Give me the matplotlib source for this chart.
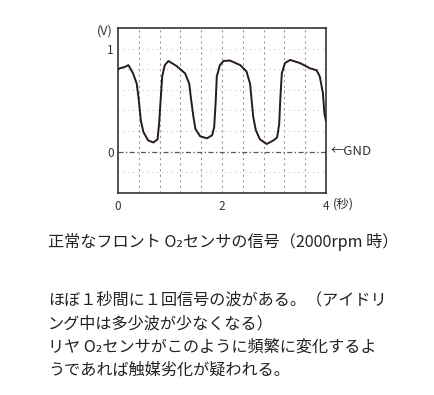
import matplotlib
matplotlib.use('Agg')
import matplotlib.pyplot as plt
import numpy as np

plt.rcParams['font.family'] = ['Noto Sans CJK JP', 'DejaVu Sans']

# waveform (time in s, voltage in V)
t = [0.00, 0.04, 0.12, 0.20, 0.29, 0.36, 0.40, 0.44, 0.49, 0.58, 0.68, 0.76,
     0.79, 0.82, 0.85, 0.90, 0.97, 1.13, 1.29, 1.37, 1.40, 1.45, 1.49, 1.58,
     1.71, 1.81, 1.85, 1.88, 1.90, 1.96, 2.03, 2.15, 2.35, 2.47, 2.54, 2.57,
     2.60, 2.65, 2.73, 2.86, 2.99, 3.06, 3.10, 3.12, 3.15, 3.21, 3.31, 3.50,
     3.69, 3.82, 3.88, 3.94, 3.97, 4.00]
v = [0.80, 0.81, 0.82, 0.84, 0.76, 0.66, 0.50, 0.30, 0.19, 0.11, 0.09, 0.12,
     0.27, 0.50, 0.73, 0.84, 0.88, 0.83, 0.76, 0.66, 0.53, 0.34, 0.22, 0.15,
     0.13, 0.16, 0.24, 0.50, 0.73, 0.84, 0.88, 0.885, 0.84, 0.78, 0.66, 0.50,
     0.34, 0.21, 0.12, 0.075, 0.11, 0.14, 0.27, 0.50, 0.76, 0.86, 0.89, 0.86,
     0.81, 0.79, 0.73, 0.57, 0.37, 0.30]

x_ticks = [0, 2, 4]
x_labels = ['0', '2', '4']
y_ticks = [0, 1]
y_labels = ['0', '1']

title = '正常なフロント O₂センサの信号（2000rpm 時）'
body = ['ほぼ１秒間に１回信号の波がある。（アイドリ',
        'ング中は多少波が少なくなる）',
        'リヤ O₂センサがこのように頻繁に変化するよ',
        'うであれば触媒劣化が疑われる。']

W, H = 435, 395
fig = plt.figure(figsize=(W / 100, H / 100), dpi=100)
ax = fig.add_axes([118 / W, 1 - 193 / H, 208 / W, 165 / H])

# scope grid
for gx in np.arange(0.4, 4.0, 0.4):
    ax.axvline(gx, color='#999999', lw=0.8, ls=(0, (2, 3)), zorder=1)
for gy in np.arange(-0.2, 1.2, 0.2):
    if abs(gy) < 1e-9:
        continue
    ax.axhline(gy, color='#bbbbbb', lw=0.7, ls=(0, (1, 4)), zorder=1)
ax.axhline(0, color='#555555', lw=0.9, ls=(0, (4, 2, 1, 2)), zorder=1)

ax.plot(t, v, color='#2a1a1a', lw=1.4, zorder=3, solid_joinstyle='round')

ax.set_xlim(0, 4)
ax.set_ylim(-0.4, 1.2)
ax.set_xticks(x_ticks)
ax.set_xticklabels(x_labels)
ax.set_yticks(y_ticks)
ax.set_yticklabels(y_labels)
ax.tick_params(length=0, labelsize=8.5, colors='#333333')
ax.tick_params(axis='y', pad=3)
ax.tick_params(axis='x', pad=5)
for s in ax.spines.values():
    s.set_linewidth(1.1)
    s.set_color('#222222')

fig.text(97 / W, 1 - 31 / H, '(V)', fontsize=9, color='#333333', va='center')
fig.text(333 / W, 1 - 204 / H, '(秒)', fontsize=9, color='#333333', va='center')
fig.text(331 / W, 1 - 151 / H, '←GND', fontsize=9.5, color='#333333', va='center')

fig.text(48 / W, 1 - 242 / H, title, fontsize=11.6, color='#222222', va='center')
for i, line in enumerate(body):
    fig.text(48 / W, 1 - (300 + i * 23.5) / H, line, fontsize=11.6,
             color='#222222', va='center')

fig.savefig('out.png', dpi=100)
